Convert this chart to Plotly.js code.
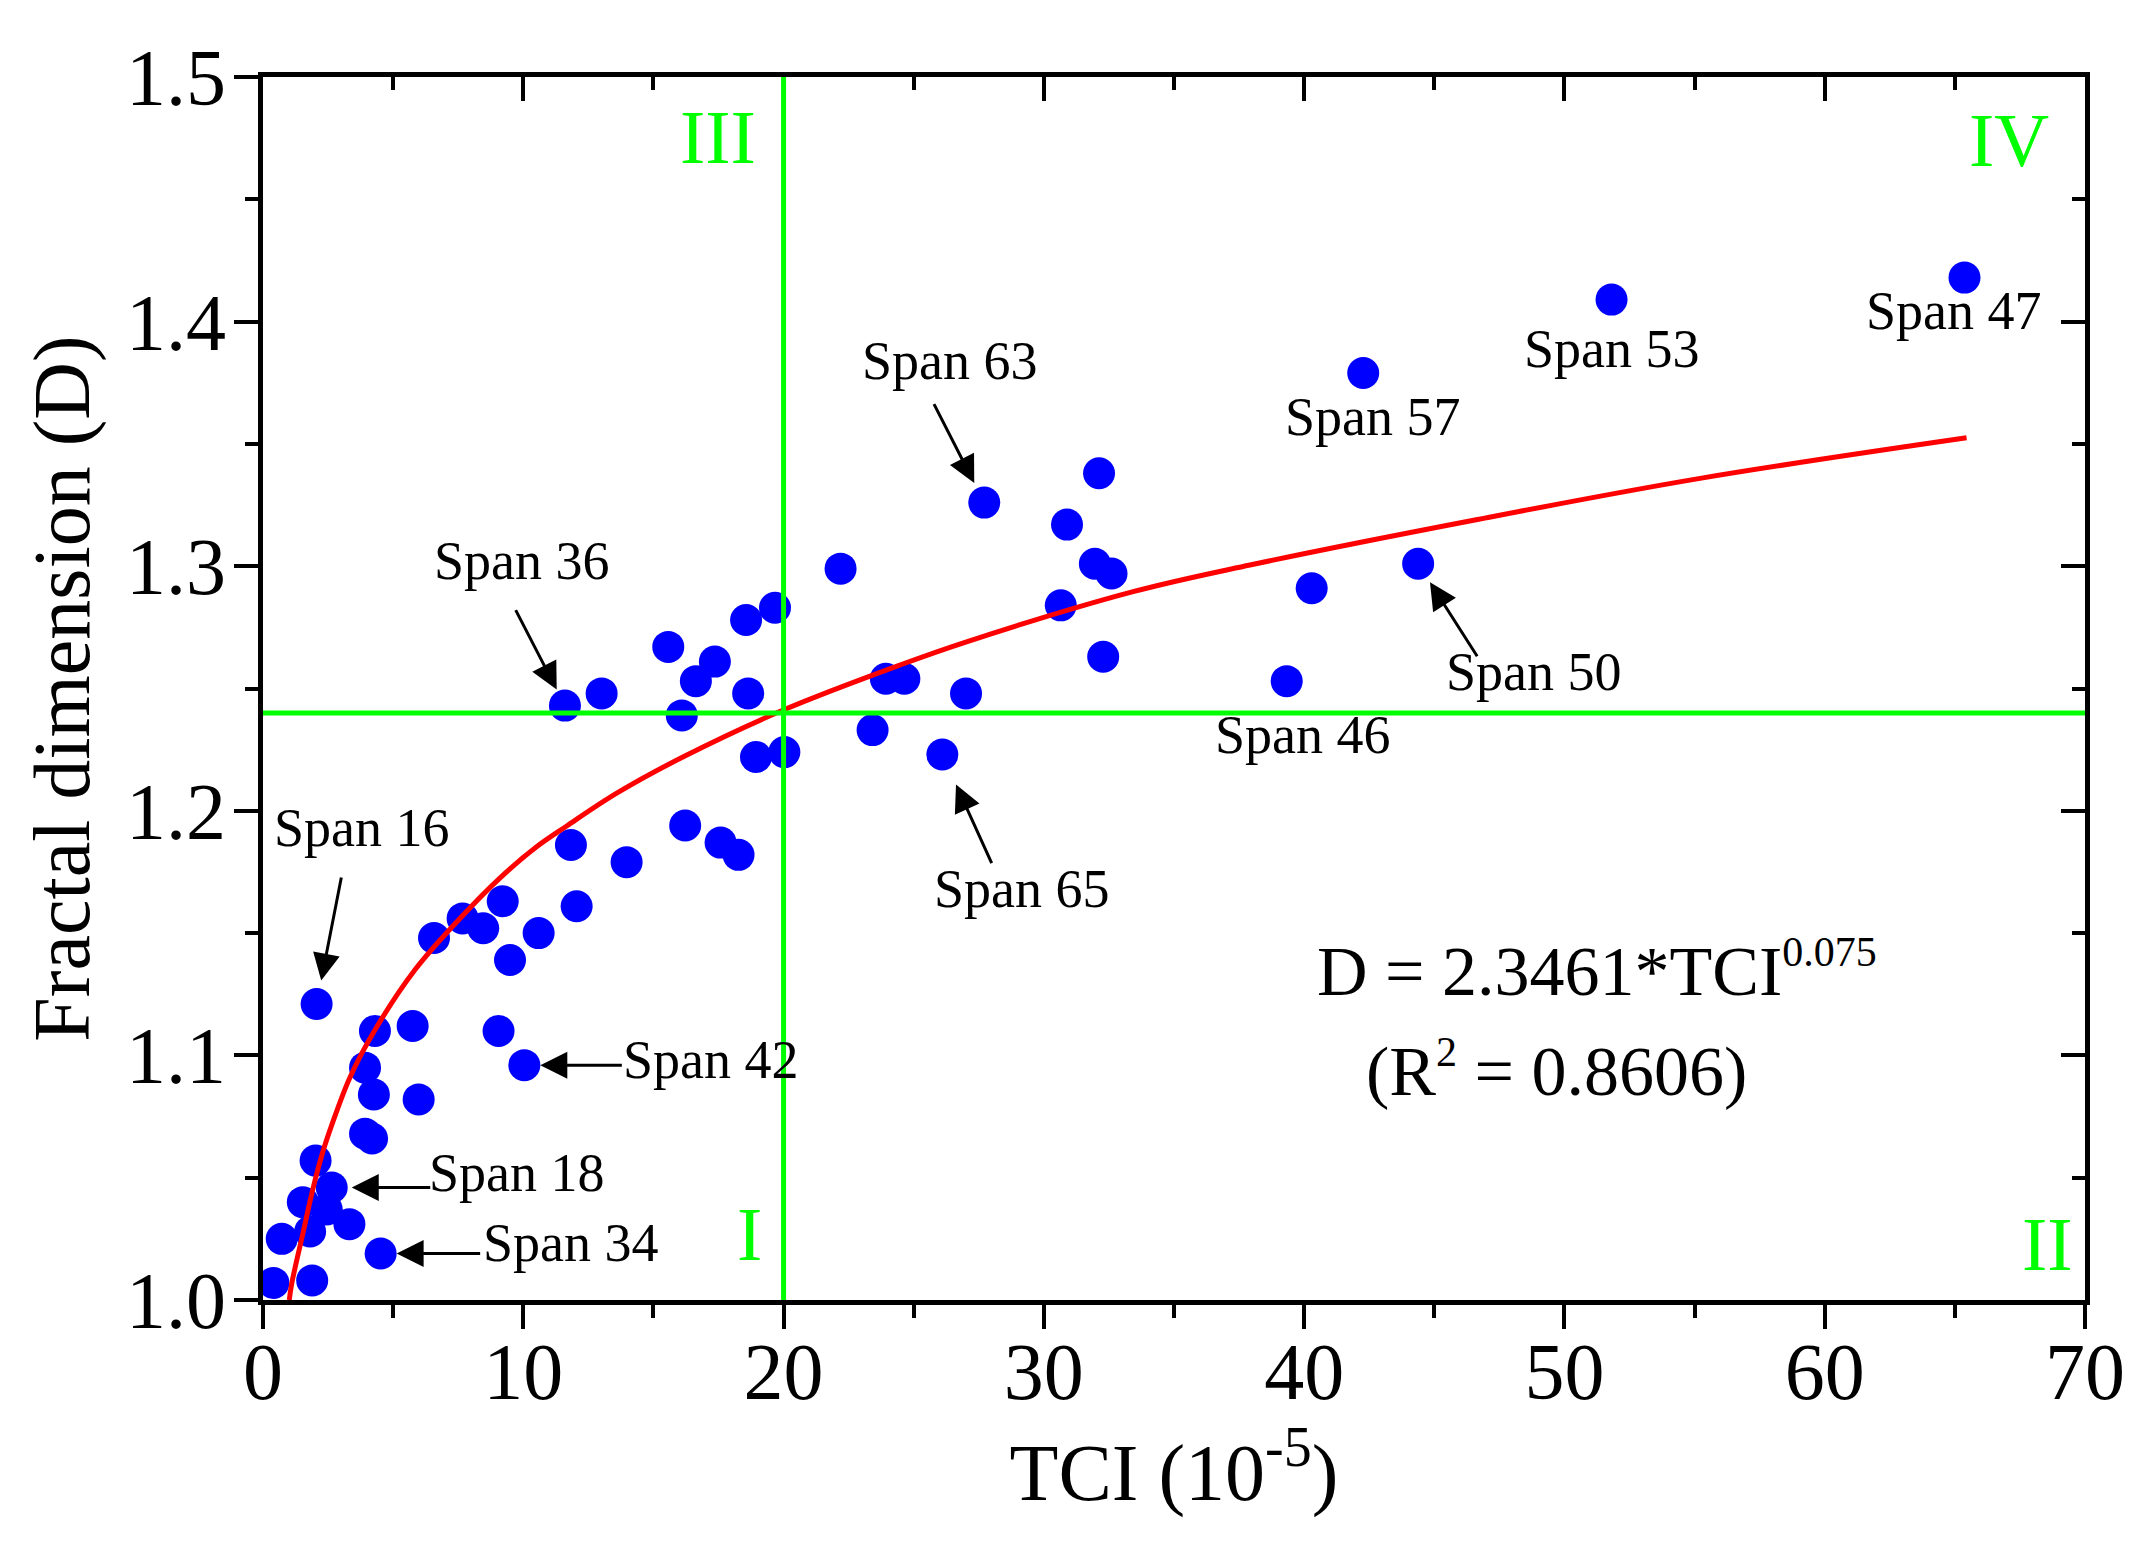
<!DOCTYPE html>
<html>
<head>
<meta charset="utf-8">
<script src="https://cdn.plot.ly/plotly-3.0.1.min.js"></script>
<style>
  html, body { margin: 0; padding: 0; background: #ffffff; }
  #chart { width: 2155px; height: 1550px; }
</style>
</head>
<body>
<div id="chart"></div>
<script>
// measured spans: TCI (10^-5) vs fractal dimension D
const tci = [
    2.06, 4.30, 5.75, 9.05, 10.04, 3.92, 4.26, 5.98, 3.92, 4.19,
    2.02, 2.64, 1.53, 1.81, 2.45, 3.32, 0.72, 4.52, 0.40, 1.89,
    6.57, 7.67, 8.46, 9.21, 10.59, 9.49, 12.05, 13.97, 11.83, 16.22,
    17.58, 18.27, 11.60, 13.01, 15.57, 16.09, 16.63, 17.36, 18.56, 18.64,
    19.67, 18.94, 20.03, 22.19, 23.42, 23.93, 24.64, 26.10, 27.01, 27.71,
    30.65, 30.89, 31.96, 32.12, 32.60, 32.28, 39.33, 40.29, 42.27, 44.38,
    51.81, 65.37,
];
const fractalD = [
    1.121, 1.110, 1.112, 1.110, 1.096, 1.095, 1.084, 1.082, 1.068, 1.066,
    1.057, 1.046, 1.040, 1.028, 1.037, 1.031, 1.025, 1.019, 1.007, 1.008,
    1.148, 1.156, 1.152, 1.163, 1.150, 1.139, 1.161, 1.179, 1.186, 1.194,
    1.187, 1.182, 1.243, 1.248, 1.267, 1.239, 1.253, 1.261, 1.278, 1.248,
    1.283, 1.222, 1.224, 1.299, 1.233, 1.254, 1.254, 1.223, 1.248, 1.326,
    1.284, 1.317, 1.301, 1.338, 1.297, 1.263, 1.253, 1.291, 1.379, 1.301,
    1.409, 1.418,
];

// power-law fit
const fitTci = [1.01, 1.10, 1.55, 1.93, 2.32, 2.64, 3.34, 4.30, 5.84, 7.63, 9.1, 10.5,
                11.67, 13.59, 16.15, 19.99, 24.47, 27.03, 33.43, 37.92, 46.56, 55.21, 65.45];
const fitD = [1.0, 1.0065, 1.0280, 1.0460, 1.0613, 1.0715, 1.0910, 1.1104, 1.1350, 1.1567, 1.1725, 1.1852,
              1.1938, 1.2072, 1.2221, 1.2412, 1.2596, 1.2691, 1.2896, 1.3005, 1.3189, 1.3359, 1.3525];

// quadrant split
const tciSplit = 20;
const dSplit = 1.24;

const xTickVals = [0, 10, 20, 30, 40, 50, 60, 70];
const yTickVals = [1.0, 1.1, 1.2, 1.3, 1.4, 1.5];

// labelled spans: index into tci/fractalD
const spanNames = ['Span 63', 'Span 36', 'Span 16', 'Span 42', 'Span 18', 'Span 34',
                   'Span 65', 'Span 50', 'Span 46', 'Span 57', 'Span 53', 'Span 47'];
const spanIndex = [49, 32, 0, 4, 11, 17, 47, 59, 56, 58, 60, 61];

// label placement (px from the point) and optional arrow tail (px from the point)
const spanStyle = [
    { dx: -34, dy: 142, arrow: [-51, -100], standoff: 22 },
    { dx: -43, dy: 145, arrow: [-50, -97], standoff: 18 },
    { dx: 45, dy: 176, arrow: [25, -128], standoff: 24 },
    { dx: 187, dy: 5, arrow: [99, 0], standoff: 16 },
    { dx: 185, dy: 14, arrow: [100, 0], standoff: 20 },
    { dx: 190, dy: 11, arrow: [101, 0], standoff: 16 },
    { dx: 80, dy: -134, arrow: [50, 110], standoff: 33 },
    { dx: 116, dy: -108, arrow: [60, 94], standoff: 22 },
    { dx: 16, dy: -54 },
    { dx: 10, dy: -44 },
    { dx: 0, dy: -49 },
    { dx: -10, dy: -33 },
];

const SERIF = "'Liberation Serif', 'Times New Roman', serif";
const GREEN = '#00ff00';

const traces = [
    {
        x: tci, y: fractalD,
        type: 'scatter', mode: 'markers',
        marker: { color: '#0000ff', size: 32, line: { width: 0 } },
        hoverinfo: 'skip',
    },
    {
        x: fitTci, y: fitD,
        type: 'scatter', mode: 'lines',
        line: { color: '#ff0000', width: 5, shape: 'spline', smoothing: 1 },
        hoverinfo: 'skip',
    },
    // keeps the mirrored top/right axes alive
    { x: [], y: [], xaxis: 'x2', yaxis: 'y2', type: 'scatter', mode: 'markers', hoverinfo: 'skip' },
];

const annotations = [];
spanNames.forEach((name, kk) => {
    const i = spanIndex[kk];
    const s = spanStyle[kk];
    annotations.push({
        x: tci[i], y: fractalD[i], xref: 'x', yref: 'y',
        text: name, showarrow: false,
        xshift: s.dx, yshift: s.dy,
        font: { family: SERIF, size: 54, color: '#000000' },
    });
    if (s.arrow) {
        annotations.push({
            x: tci[i], y: fractalD[i], xref: 'x', yref: 'y',
            text: '', showarrow: true,
            ax: s.arrow[0], ay: s.arrow[1],
            arrowhead: 2, arrowsize: 1.8, arrowwidth: 3, arrowcolor: '#000000',
            standoff: s.standoff,
        });
    }
});

const quadrants = [
    { text: 'III', x: 17.48, y: 1.4755 },
    { text: 'IV', x: 67.08, y: 1.4743 },
    { text: 'I', x: 18.71, y: 1.027 },
    { text: 'II', x: 68.54, y: 1.0229 },
];
for (const q of quadrants) {
    annotations.push({
        x: q.x, y: q.y, xref: 'x', yref: 'y', text: q.text, showarrow: false,
        font: { family: SERIF, size: 76, color: GREEN },
    });
}

annotations.push({
    x: 40.4, y: 1.1177, xref: 'x', yref: 'y', xanchor: 'left', yanchor: 'bottom',
    text: 'D = 2.3461*TCI<sup><span style="font-size:42px">0.075</span></sup>', showarrow: false,
    font: { family: SERIF, size: 70, color: '#000000' },
});
annotations.push({
    x: 42.3, y: 1.0767, xref: 'x', yref: 'y', xanchor: 'left', yanchor: 'bottom',
    text: '(R<sup><span style="font-size:42px">2</span></sup> = 0.8606)', showarrow: false,
    font: { family: SERIF, size: 70, color: '#000000' },
});

const axisBase = {
    showgrid: false, zeroline: false,
    showline: true, linecolor: '#000000', linewidth: 5,
    tickcolor: '#000000', tickwidth: 4, ticklen: 24,
    tickfont: { family: SERIF, size: 80, color: '#000000' },
};

const layout = {
    width: 2155, height: 1550,
    paper_bgcolor: '#ffffff', plot_bgcolor: '#ffffff',
    margin: { l: 263, r: 70, t: 77, b: 250 },
    showlegend: false,
    xaxis: Object.assign({}, axisBase, {
        range: [0, 70], tickvals: xTickVals, ticks: 'outside',
        ticklabelstandoff: -26,
        minor: { dtick: 5, tick0: 0, ticks: 'outside', ticklen: 13, tickwidth: 4, tickcolor: '#000000', showgrid: false },
        title: { text: 'TCI (10<sup>-5</sup>)', font: { family: SERIF, size: 80, color: '#000000' }, standoff: 15 },
    }),
    yaxis: Object.assign({}, axisBase, {
        range: [1.0, 1.5], tickvals: yTickVals, tickformat: '.1f', ticks: 'outside',
        ticklabelstandoff: -8,
        minor: { dtick: 0.05, tick0: 1.0, ticks: 'outside', ticklen: 13, tickwidth: 4, tickcolor: '#000000', showgrid: false },
        title: { text: 'Fractal dimension (D)', font: { family: SERIF, size: 80, color: '#000000' }, standoff: 12 },
    }),
    xaxis2: Object.assign({}, axisBase, {
        overlaying: 'x', side: 'top', anchor: 'y', range: [0, 70],
        tickvals: xTickVals, ticks: 'inside', showticklabels: false,
        minor: { dtick: 5, tick0: 0, ticks: 'inside', ticklen: 13, tickwidth: 4, tickcolor: '#000000', showgrid: false },
    }),
    yaxis2: Object.assign({}, axisBase, {
        overlaying: 'y', side: 'right', anchor: 'x', range: [1.0, 1.5],
        tickvals: yTickVals, ticks: 'inside', showticklabels: false,
        minor: { dtick: 0.05, tick0: 1.0, ticks: 'inside', ticklen: 13, tickwidth: 4, tickcolor: '#000000', showgrid: false },
    }),
    shapes: [
        {
            type: 'line', xref: 'x', yref: 'paper', x0: tciSplit, x1: tciSplit, y0: 0, y1: 1,
            line: { color: GREEN, width: 5 }, layer: 'above',
        },
        {
            type: 'line', xref: 'paper', yref: 'y', x0: 0, x1: 1, y0: dSplit, y1: dSplit,
            line: { color: GREEN, width: 5 }, layer: 'above',
        },
    ],
    annotations,
};

Plotly.newPlot('chart', traces, layout, { displayModeBar: false, staticPlot: true });
</script>
</body>
</html>
